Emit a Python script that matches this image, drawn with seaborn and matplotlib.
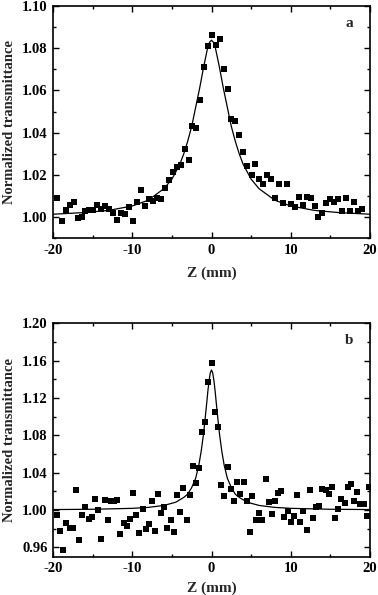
import numpy as np
import pandas as pd
import matplotlib
matplotlib.use("Agg")
import matplotlib.pyplot as plt
from matplotlib.ticker import MultipleLocator
import seaborn as sns

# Panel a: measured points
z_a = [-19.45, -18.9, -18.4, -17.9, -17.4, -16.9, -16.4, -15.9, -15.4, -14.9,
       -14.4, -13.9, -13.4, -12.9, -12.4, -11.9, -11.4, -10.9, -10.4, -9.9,
       -9.4, -8.9, -8.4, -7.9, -7.4, -6.9, -6.4, -5.9, -5.4, -4.9,
       -4.4, -3.9, -3.35, -2.85, -2.4, -1.95, -1.5, -1.0, -0.5, 0.0,
       0.53, 1.03, 1.58, 2.05, 2.46, 3.0, 3.5, 4.0, 4.5, 5.07,
       5.55, 6.0, 6.5, 7.0, 7.5, 8.0, 8.5, 9.0, 9.5, 10.0,
       10.5, 11.0, 11.5, 12.0, 12.5, 13.0, 13.5, 14.0, 14.5, 15.0,
       15.5, 16.0, 16.5, 17.0, 17.5, 18.0, 18.5, 19.0]
t_a = [1.0089, 0.9983, 1.0036, 1.0060, 1.0070, 0.9997, 1.0001, 1.0028, 1.0035, 1.0036,
       1.0058, 1.0038, 1.0055, 1.0038, 1.0020, 0.9989, 1.0020, 1.0014, 1.0049, 0.9983,
       1.0074, 1.0128, 1.0054, 1.0087, 1.0076, 1.0093, 1.0087, 1.0136, 1.0175, 1.0213,
       1.0238, 1.0245, 1.0323, 1.0272, 1.0430, 1.0420, 1.0555, 1.0710, 1.0812, 1.0865,
       1.0816, 1.0843, 1.0704, 1.0607, 1.0465, 1.0455, 1.0388, 1.0310, 1.0244, 1.0201,
       1.0252, 1.0183, 1.0156, 1.0202, 1.0183, 1.0092, 1.0156, 1.0066, 1.0156, 1.0062,
       1.0049, 1.0096, 1.0060, 1.0096, 1.0089, 1.0054, 0.9999, 1.0020, 1.0065, 1.0087,
       1.0073, 1.0087, 1.0027, 1.0093, 1.0027, 1.0074, 1.0027, 1.0038]

# Panel a: fitted curve
fit_z_a = [-20, -16, -13, -10, -8, -6, -5, -4, -3.5, -3, -2.5, -2, -1.5, -1,
           -0.5, -0.25, 0, 0.25, 0.5, 1, 1.5, 2, 2.5, 3, 3.5, 4, 5, 6, 8,
           10, 13, 16, 20]
fit_t_a = [1.0014, 1.0022, 1.0032, 1.0053, 1.0080, 1.0135, 1.0180, 1.0250,
           1.0300, 1.0360, 1.0430, 1.0520, 1.0610, 1.0710, 1.0800, 1.0828,
           1.0838, 1.0828, 1.0800, 1.0710, 1.0610, 1.0520, 1.0430, 1.0360,
           1.0300, 1.0250, 1.0180, 1.0135, 1.0080, 1.0053, 1.0032, 1.0022,
           1.0014]

# Panel b: measured points
z_b = [-19.5, -19.1, -18.7, -18.3, -17.9, -17.5, -17.1, -16.7, -16.3, -15.9,
       -15.5, -15.1, -14.7, -14.3, -13.9, -13.5, -13.1, -12.7, -12.3, -11.9,
       -11.5, -11.1, -10.7, -10.3, -9.9, -9.5, -9.1, -8.7, -8.3, -7.9,
       -7.5, -7.1, -6.8, -6.4, -5.95, -5.6, -5.15, -4.75, -4.35, -3.97,
       -3.55, -3.13, -2.7, -2.37, -2.0, -1.58, -1.16, -0.78, -0.4, 0.0,
       0.38, 0.86, 1.2, 1.62, 2.04, 2.46, 2.88, 3.2, 3.63, 4.06,
       4.43, 4.83, 5.17, 5.6, 6.0, 6.4, 6.83, 7.2, 7.6, 8.0,
       8.4, 8.76, 9.2, 9.6, 10.0, 10.4, 10.8, 11.2, 11.6, 12.0,
       12.4, 12.8, 13.2, 13.55, 13.97, 14.4, 14.8, 15.2, 15.6, 16.0,
       16.4, 16.8, 17.2, 17.6, 18.0, 18.4, 18.8, 19.2, 19.6, 19.9]
t_b = [0.9946, 0.9770, 0.9570, 0.9860, 0.9810, 0.9810, 1.0218, 0.9680, 0.9950, 1.0030,
       0.9900, 0.9925, 1.0115, 1.0003, 0.9690, 1.0107, 0.9890, 1.0097, 1.0100, 1.0104,
       0.9740, 0.9864, 0.9830, 0.9900, 1.0178, 0.9943, 0.9756, 1.0007, 0.9800, 0.9850,
       1.0097, 0.9780, 1.0168, 0.9964, 1.0032, 0.9810, 0.9890, 0.9767, 1.0158, 0.9980,
       1.0240, 0.9890, 1.0158, 1.0470, 1.0287, 1.0455, 1.0838, 1.0940, 1.1370, 1.1570,
       1.1050, 1.0885, 1.0265, 1.0150, 1.0466, 1.0229, 1.0097, 1.0300, 1.0169, 1.0300,
       1.0097, 0.9760, 1.0154, 0.9890, 0.9964, 0.9890, 1.0333, 1.0086, 0.9960, 1.0097,
       1.0183, 1.0204, 0.9925, 0.9989, 0.9870, 0.9932, 1.0161, 0.9870, 0.9989, 0.9790,
       1.0218, 0.9918, 1.0036, 1.0040, 1.0226, 1.0218, 1.0168, 1.0247, 0.9910, 1.0014,
       1.0115, 1.0079, 1.0247, 1.0283, 1.0097, 1.0190, 1.0060, 1.0060, 0.9940, 1.0247]

# Panel b: fitted curve
fit_z_b = [-20, -15, -10, -8, -6, -4.5, -3.5, -3, -2.5, -2, -1.6, -1.3, -1.0,
           -0.8, -0.6, -0.45, -0.3, -0.15, 0, 0.15, 0.3, 0.45, 0.6, 0.8, 1.0,
           1.3, 1.6, 2, 2.5, 3, 3.5, 4.5, 6, 8, 10, 15, 20]
fit_t_b = [1.0005, 1.0008, 1.0018, 1.0028, 1.0049, 1.0084, 1.0135, 1.0170,
           1.0240, 1.0340, 1.0480, 1.0630, 1.0820, 1.0980, 1.1150, 1.1280,
           1.1390, 1.1470, 1.1500, 1.1470, 1.1390, 1.1280, 1.1150, 1.0980,
           1.0820, 1.0630, 1.0480, 1.0340, 1.0240, 1.0170, 1.0135, 1.0084,
           1.0049, 1.0028, 1.0018, 1.0008, 1.0005]

sns.set_theme(style="ticks")
plt.rcParams['font.family'] = ['Liberation Serif', 'DejaVu Serif']
plt.rcParams['font.weight'] = 'bold'
plt.rcParams['axes.labelweight'] = 'bold'
plt.rcParams['axes.unicode_minus'] = False

fig = plt.figure(figsize=(3.78, 5.95), dpi=100)
W, H = 378, 595
ax_a = fig.add_axes([53 / W, 1 - 238.3 / H, 317 / W, 232.3 / H])
ax_b = fig.add_axes([53 / W, 1 - 556.7 / H, 317 / W, 233.4 / H])

panels = [
    (ax_a, z_a, t_a, fit_z_a, fit_t_a, (0.99, 1.10), 0.02, 0.01, "a", -0.12),
    (ax_b, z_b, t_b, fit_z_b, fit_t_b, (0.95, 1.20), 0.04, 0.02, "b", -0.105),
]

for ax, z, t, fz, ft, ylim, ymaj, ymin, tag, xlab_y in panels:
    pts = pd.DataFrame({"z": z, "t": t})
    fit = pd.DataFrame({"z": fz, "t": ft})
    sns.lineplot(data=fit, x="z", y="t", ax=ax, color="black", linewidth=0.9,
                 sort=False)
    sns.scatterplot(data=pts, x="z", y="t", ax=ax, color="black", marker="s",
                    s=16, linewidth=0, zorder=3)
    ax.set_xlim(-20, 20)
    ax.set_ylim(*ylim)
    ax.xaxis.set_major_locator(MultipleLocator(10))
    ax.xaxis.set_minor_locator(MultipleLocator(5))
    ax.yaxis.set_major_locator(MultipleLocator(ymaj))
    ax.yaxis.set_minor_locator(MultipleLocator(ymin))
    ax.yaxis.set_major_formatter(plt.FormatStrFormatter('%.2f'))
    ax.tick_params(which="both", direction="in", top=True, right=True,
                   width=1.0, colors="black", labelsize=10.5, pad=4)
    ax.tick_params(which="major", length=4)
    ax.tick_params(which="minor", length=2.5)
    for s in ax.spines.values():
        s.set_visible(True)
        s.set_linewidth(1.2)
        s.set_color("black")
    for lab in ax.get_xticklabels() + ax.get_yticklabels():
        lab.set_fontweight("bold")
    ax.set_xlabel("Z (mm)", fontsize=11, fontweight="bold")
    ax.set_ylabel("Normalized transmittance", fontsize=10.5, fontweight="bold")
    ax.xaxis.set_label_coords(0.5, xlab_y)
    ax.yaxis.set_label_coords(-0.118, 0.5)
    ax.text(0.935, 0.925, tag, transform=ax.transAxes, fontsize=11,
            fontweight="bold", ha="center", va="center")

fig.savefig("out.png", dpi=100)
